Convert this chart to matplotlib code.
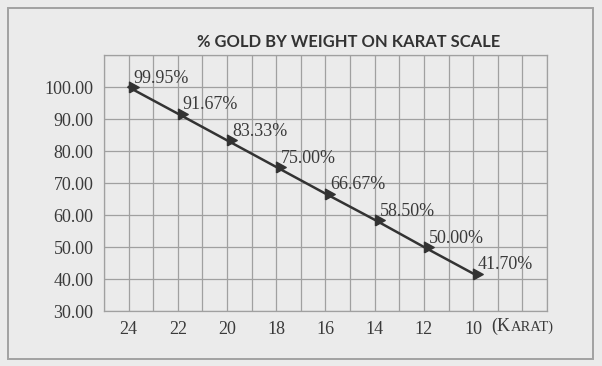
import matplotlib
matplotlib.use("Agg")
import matplotlib.pyplot as plt
from matplotlib.patches import Rectangle
from matplotlib.offsetbox import TextArea, HPacker, AnnotationBbox
import numpy as np

karats = [24, 22, 20, 18, 16, 14, 12, 10]
gold_pct = [99.95, 91.67, 83.33, 75.00, 66.67, 58.50, 50.00, 41.70]
point_labels = ["99.95%", "91.67%", "83.33%", "75.00%", "66.67%", "58.50%", "50.00%", "41.70%"]
y_ticks = [30, 40, 50, 60, 70, 80, 90, 100]
title = "% GOLD BY WEIGHT ON KARAT SCALE"

BG = "#ebebeb"
GRID = "#a0a0a0"
TXT = "#3a3a3a"
SERIF = "Liberation Serif"

fig = plt.figure(figsize=(6.02, 3.66), dpi=100, facecolor=BG)
W, H = 602, 366

# outer frame
fig.patches.append(Rectangle((8 / W, 1 - 359 / H), (593 - 8) / W, (359 - 8) / H,
                             transform=fig.transFigure, fill=False,
                             edgecolor="#a2a2a2", lw=1.4))

ax = fig.add_axes([104 / W, 1 - 311 / H, (547 - 104) / W, (311 - 55) / H])
ax.set_facecolor(BG)

ax.set_xlim(25, 7)
ax.set_ylim(30, 110)
ax.set_xticks(karats)
ax.set_xticks(np.arange(7, 26, 1), minor=True)
ax.set_yticks(y_ticks)
ax.set_yticks(np.arange(30, 111, 10), minor=True)
ax.set_yticklabels([f"{v:.2f}" for v in y_ticks])
ax.set_xticklabels([str(k) for k in karats])
ax.grid(True, which="both", color=GRID, lw=0.9)
ax.set_axisbelow(True)
for s in ax.spines.values():
    s.set_color(GRID)
    s.set_linewidth(0.9)
ax.tick_params(which="both", length=0)
ax.tick_params(axis="x", pad=7, labelsize=13, labelcolor=TXT)
ax.tick_params(axis="y", pad=7.5, labelsize=13, labelcolor=TXT)
for lab in ax.get_xticklabels() + ax.get_yticklabels():
    lab.set_fontfamily(SERIF)

tri = [(0, -0.55), (0, 0.55), (1, 0), (0, -0.55)]
ax.plot(karats, gold_pct, color="#333333", lw=1.8, marker=tri, markersize=14,
        markerfacecolor="#333333", markeredgecolor="#333333", clip_on=False)

for k, v, t in zip(karats, gold_pct, point_labels):
    ax.annotate(t, (k, v), xytext=(3.5, 3), textcoords="offset points",
                ha="left", va="baseline", fontsize=13, color=TXT,
                fontfamily=SERIF)

fig.text(348.5 / W, 1 - 42 / H, title, ha="center", va="center",
         fontsize=11.9, color="#333333", fontfamily="Lato", fontweight="bold")

# (KARAT) in small caps
t1 = TextArea("(K", textprops=dict(fontsize=13, color=TXT, fontfamily=SERIF))
t2 = TextArea("ARAT)", textprops=dict(fontsize=10.5, color=TXT, fontfamily=SERIF))
pack = HPacker(children=[t1, t2], align="baseline", pad=0, sep=0)
ab = AnnotationBbox(pack, (491.5 / W, 1 - 326 / H), xycoords="figure fraction",
                    box_alignment=(0, 0.5), frameon=False, pad=0)
fig.add_artist(ab)

fig.savefig("out.png", dpi=100, facecolor=BG)
